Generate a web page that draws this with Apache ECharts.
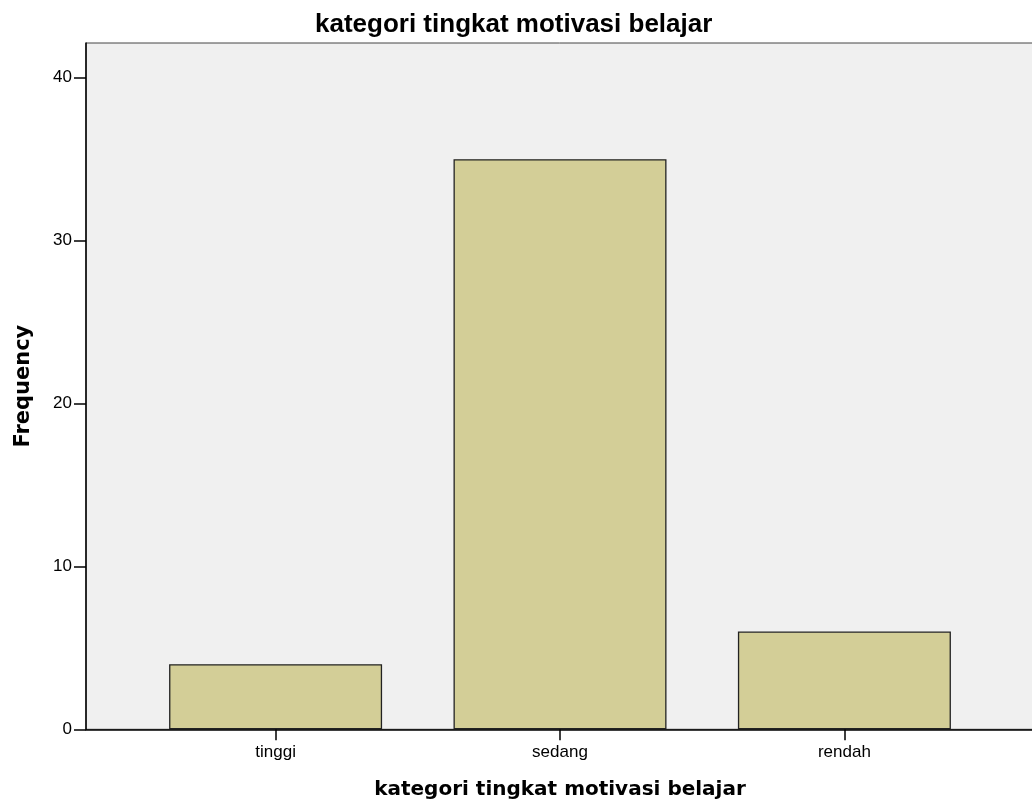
<!DOCTYPE html>
<html><head><meta charset="utf-8">
<script src="https://cdn.jsdelivr.net/npm/echarts@6/dist/echarts.min.js"></script>
<style>html,body{margin:0;padding:0;background:#fff}#c{width:1032px;height:811px}</style>
</head><body><div id="c"></div>
<script>
const categories = ['tinggi', 'sedang', 'rendah'];
const frequencies = [4, 35, 6];
const yTicks = [0, 10, 20, 30, 40];
const titleText = 'kategori tingkat motivasi belajar';
const xName = 'kategori tingkat motivasi belajar';
const yName = 'Frequency';

const chart = echarts.init(document.getElementById('c'), null, {renderer: 'canvas'});
const idx = categories.map((c, i) => i);
chart.setOption({
  animation: false,
  backgroundColor: '#ffffff',
  title: {
    text: titleText, left: 310, top: 7,
    textStyle: {fontFamily: 'Liberation Sans', fontWeight: 'bold', fontSize: 26, color: '#000'}
  },
  grid: {
    left: 86, top: 43, width: 948, bottom: 81.7,
    containLabel: false, outerBoundsMode: 'none',
    show: true, backgroundColor: '#f0f0f0', borderColor: '#444', borderWidth: 1
  },
  xAxis: {
    type: 'value', min: -2 / 3, max: 8 / 3,
    splitLine: {show: false},
    axisLine: {show: true, onZero: false, lineStyle: {color: '#000', width: 1.5}},
    axisTick: {show: true, customValues: idx, length: 11, lineStyle: {color: '#000', width: 1.5}},
    axisLabel: {
      customValues: idx, margin: 15, color: '#000', fontFamily: 'Liberation Sans', fontSize: 17,
      formatter: v => categories[Math.round(v)]
    },
    name: xName, nameLocation: 'middle', nameGap: 50,
    nameTextStyle: {fontFamily: 'DejaVu Sans', fontWeight: 'bold', fontSize: 20, color: '#000', verticalAlign: 'top'}
  },
  yAxis: {
    type: 'value', min: 0, max: 42.13, interval: 10,
    splitLine: {show: false},
    axisLine: {show: true, onZero: false, lineStyle: {color: '#000', width: 1.5}},
    axisTick: {show: true, customValues: yTicks, length: 12, lineStyle: {color: '#000', width: 1.5}},
    axisLabel: {customValues: yTicks, margin: 14, color: '#000', fontFamily: 'Liberation Sans', fontSize: 17},
    name: yName, nameLocation: 'middle', nameGap: 52, nameRotate: 90,
    nameTextStyle: {fontFamily: 'DejaVu Sans', fontWeight: 'bold', fontSize: 21, color: '#000'}
  },
  series: [{
    type: 'bar',
    data: frequencies.map((v, i) => [i, v]),
    barWidth: 213,
    itemStyle: {color: '#d3ce97', borderColor: '#222', borderWidth: 1.3}
  }]
});
</script></body></html>
